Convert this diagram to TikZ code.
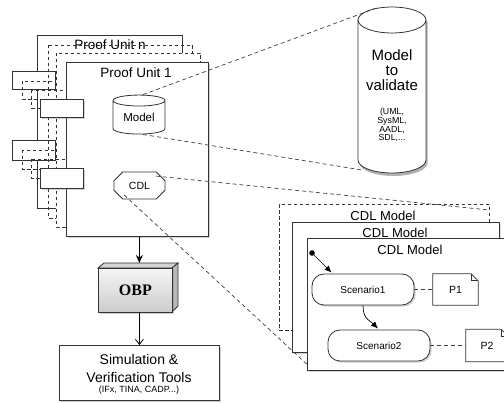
\documentclass[tikz,border=0pt]{standalone}
\usepackage{fontspec}
\setmainfont{Liberation Sans}
\newfontfamily\obpfont{Liberation Serif}
\usetikzlibrary{shapes.geometric,shapes.misc,arrows.meta,shadows,calc}
\newcommand{\fs}[1]{\fontsize{#1}{#1}\selectfont}
\tikzset{
  ln/.style={line width=0.8pt, draw=black!80},
  dsh/.style={ln, dash pattern=on 3.5pt off 2.5pt},
  conn/.style={line width=0.7pt, draw=black!75, dash pattern=on 4pt off 3pt},
  shad/.style={drop shadow={shadow xshift=1.6pt, shadow yshift=-1.6pt, opacity=0.35}},
  port/.style={ln, fill=white, rectangle, minimum width=43, minimum height=18, inner sep=0pt, anchor=north west},
  chbox/.style={chamfered rectangle, chamfered rectangle xsep=5pt, chamfered rectangle ysep=5pt, inner sep=0pt},
  scen/.style={ln, fill=white, rounded corners=12pt, rectangle, minimum width=102, minimum height=31, inner sep=0pt, font=\fs{10}},
  docn/.style={rectangle, inner sep=0pt, font=\fs{10.5}},
  txt/.style={inner sep=0pt, align=center},
}
\newcommand{\docoutline}[2]{%
  \draw[ln] (#1.south west) -- (#1.north west) -- ($(#1.north east)+(-#2,0)$) -- ($(#1.north east)+(0,#2)$) -- (#1.south east) -- cycle;
  \draw[ln, line width=0.6pt] ($(#1.north east)+(-#2,0)$) |- ($(#1.north east)+(0,#2)$);}
\begin{document}
\begin{tikzpicture}[x=1pt,y=-1pt]
\useasboundingbox (0,0) rectangle (504,403);
\clip (0,0) rectangle (504,403);
\fill[white] (0,0) rectangle (504,403);

% ---------- proof unit stack ----------
\draw[ln, fill=white] (37,35) rectangle (182,208);
\node[txt, font=\fs{13.5}] (pun) at (110,45) {Proof Unit n};
\node[port] (bp1) at (12,71) {};
\node[port, minimum height=20] (bp2) at (12,140) {};
% dashed copy 1
\draw[dsh] (48,45) rectangle (192,218);
\draw[dsh] (22,81) rectangle (64,99);
\draw[dsh] (22,150) rectangle (64,169);
% dashed copy 2
\draw[dsh, fill=white] (56,53) rectangle (200,227);
\draw[dsh] (31,90) rectangle (74,108);
\draw[dsh] (31,159) rectangle (74,178);
% front unit
\node[ln, fill=white, shad, rectangle, inner sep=0pt, minimum width=142, minimum height=174, anchor=north west] (pu1) at (66,62) {};
\node[txt, font=\fs{13.5}] (pu1t) at (136,73) {Proof Unit 1};
\node[port, shad] (fp1) at (40,99) {};
\node[port, shad, minimum height=20] (fp2) at (40,168) {};

% model cylinder
\node[cylinder, shape border rotate=90, ln, fill=white, minimum width=52, minimum height=39, aspect=0.35, inner sep=0pt, font=\fs{11.5}] (model) at (139,117.5) {Model};
% CDL
\node[chbox, ln, fill=white, minimum width=51, minimum height=27, font=\fs{10.5}] (cdl) at (139.5,185.5) {CDL};

% ---------- OBP ----------
\draw[ln, fill=gray!35] (98,268) -- (104,263) -- (178,263) -- (172,268) -- cycle;
\draw[ln, fill=gray!55] (172,268) -- (178,263) -- (178,306) -- (172,312) -- cycle;
\node[ln, shad, rectangle, inner sep=0pt, minimum width=74, minimum height=44, anchor=north west, top color=gray!8, bottom color=gray!40, font=\obpfont\bfseries\fs{16}] (obp) at (98,268) {OBP};

% ---------- simulation tools ----------
\node[ln, fill=white, shad, rectangle, inner sep=0pt, minimum width=160, minimum height=55, anchor=north west] (sim) at (59,345) {};
\node[txt, font=\fs{14}] (simt1) at (139,359) {Simulation \&};
\node[txt, font=\fs{14}] (simt2) at (139,377) {Verification Tools};
\node[txt, font=\fs{9}] (simt3) at (139,390) {(IFx, TINA, CADP...)};

\draw[line width=1.1pt, -{Stealth[length=8pt,width=7pt]}] (pu1.south -| obp.north) ++(4,0) coordinate (a1) -- (a1 |- 0,263);
\draw[line width=0.8pt, -{Straight Barb[length=5pt,width=8pt]}] ($(obp.south)+(4,0)$) coordinate (a2) -- (a2 |- sim.north);

% ---------- big cylinder ----------
\node[rectangle, inner sep=0pt, minimum width=68, minimum height=166] (bigcyl) at (392,90) {};
\fill[black, opacity=0.3] (359.5,22) -- (359.5,163) arc[start angle=180, end angle=360, x radius=34pt, y radius=13pt] -- (427.5,22) -- cycle;
\draw[ln, fill=white] (358,20) -- (358,160) arc[start angle=180, end angle=360, x radius=34pt, y radius=13pt] -- (426,20) arc[start angle=0, end angle=180, x radius=34pt, y radius=13pt] -- cycle;
\draw[ln] (358,20) arc[start angle=180, end angle=360, x radius=34pt, y radius=13pt];
\node[txt, font=\fs{15}, text depth=0pt] (mtv) at (392,70) {\baselineskip=18.5pt Model\\to\\validate};
\node[txt, font=\fs{8.8}] (langs) at (392,125) {\baselineskip=10pt (UML,\\SysML,\\AADL,\\SDL,...};

% ---------- CDL models ----------
\node[chbox, dsh, fill=white, minimum width=210, minimum height=126, anchor=north west, chamfered rectangle xsep=6pt, chamfered rectangle ysep=6pt] (cm3) at (279,204) {};
\node[txt, font=\fs{13}] (cm3t) at (383,216) {CDL Model};
\node[chbox, ln, fill=white, shad, minimum width=207, minimum height=130, anchor=north west] (cm2) at (292,222) {};
\node[txt, font=\fs{13}] (cm2t) at (395,233) {CDL Model};
\node[chbox, ln, fill=white, shad, minimum width=225, minimum height=132, anchor=north west] (cm1) at (307,238) {};
\node[txt, font=\fs{13}] (cm1t) at (410,250) {CDL Model};

\fill (312,253) circle (2.8) coordinate (init);
\node[scen, shad] (s1) at (363,289.5) {Scenario1};
\node[scen, shad] (s2) at (379,345.5) {Scenario2};
\node[docn, minimum width=45, minimum height=31] (p1) at (455.5,289.5) {};
\docoutline{p1}{7}
\node[docn] (p1t) at (p1) {P1};
\node[docn, minimum width=42, minimum height=32] (p2) at (487,345.5) {};
\docoutline{p2}{7}
\node[docn] (p2t) at (p2) {P2};

\draw[line width=0.7pt, -{Latex[length=7pt,width=6pt]}] (init) -- ($(s1.north west)+(20,-1)$);
\draw[line width=0.7pt, -{Latex[length=7pt,width=6pt]}] (s1.south) .. controls +(0,14) and +(-8,-8) .. ($(s2.north)+(-1,-1)$);
\draw[conn] (s1.east) -- (p1.west);
\draw[conn] (s2.east) -- (p2.west);

% ---------- zoom connectors ----------
\draw[conn] ($(model.north)+(4,0)$) -- ($(bigcyl.north)+(-15,1)$);
\draw[conn] ($(model.south)+(4,0)$) -- ($(bigcyl.south)+(-29,-3)$);
\draw[conn] ($(cdl.north east)+(-5,0)$) -- ($(cm3.north east)+(0,6)$);
\draw[conn] ($(cdl.south west)+(6,0)$) -- ($(cm1.south west)+(0,-6)$);
\end{tikzpicture}
\end{document}
